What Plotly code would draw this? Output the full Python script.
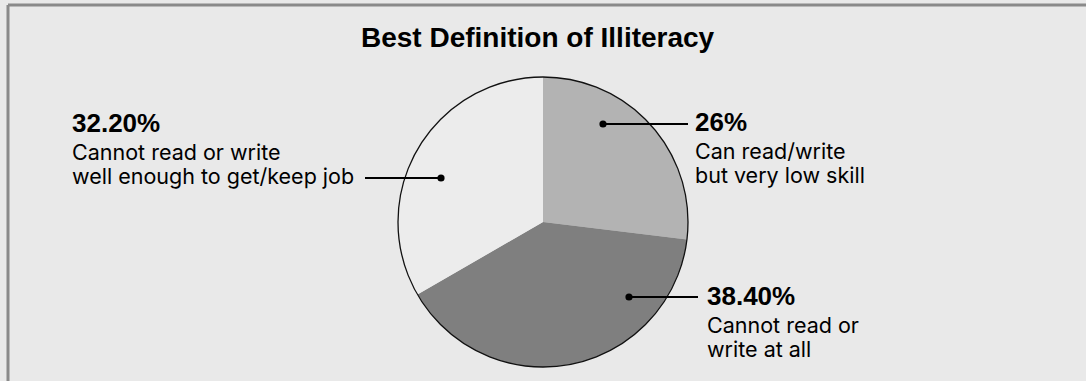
import plotly.graph_objects as go

# ---- data ----
categories = ["Can read/write but very low skill",
              "Cannot read or write at all",
              "Cannot read or write well enough to get/keep job"]
values = [26.0, 38.4, 32.2]
value_labels = ["26%", "38.40%", "32.20%"]
desc_lines = [["Can read/write", "but very low skill"],
              ["Cannot read or", "write at all"],
              ["Cannot read or write", "well enough to get/keep job"]]
slice_colors = ["#b3b3b3", "#7f7f7f", "#ececec"]
title_text = "Best Definition of Illiteracy"

W, H = 1086, 381
BG = "#e9e9e9"
FONT_BOLD = "Liberation Sans, Arial, sans-serif"
FONT_BODY = "Inter, Liberation Sans, Arial, sans-serif"


def px(x):
    return x / W


def py(y):
    return 1 - y / H


# pie geometry (pixels)
cx, cy, r = 543, 222, 145
dom_x = [px(cx - r), px(cx + r)]
dom_y = [py(cy + r), py(cy - r)]

fig = go.Figure()
fig.add_trace(go.Pie(
    labels=categories, values=values, sort=False, direction="clockwise",
    rotation=0, marker=dict(colors=slice_colors, line=dict(width=0)),
    textinfo="none", hoverinfo="label+value", showlegend=False,
    domain=dict(x=dom_x, y=dom_y),
))
# outline circle only around the circumference
fig.add_trace(go.Pie(
    labels=["outline"], values=[1], sort=False,
    marker=dict(colors=["rgba(0,0,0,0)"], line=dict(color="#111111", width=1.3)),
    textinfo="none", hoverinfo="skip", showlegend=False,
    domain=dict(x=dom_x, y=dom_y),
))

shapes = []
# frame lines (top and left)
shapes.append(dict(type="line", xref="paper", yref="paper", x0=px(8), x1=1, y0=py(5), y1=py(5),
                   line=dict(color="#8a8a8a", width=3)))
shapes.append(dict(type="line", xref="paper", yref="paper", x0=px(8), x1=px(8), y0=py(5), y1=0,
                   line=dict(color="#8a8a8a", width=3)))

# leader lines: (dot x, dot y, end x)
leaders = [(603, 124, 688), (629, 297, 698), (441, 178, 365)]
for (dx, dy, ex) in leaders:
    shapes.append(dict(type="line", xref="paper", yref="paper", x0=px(dx), x1=px(ex), y0=py(dy), y1=py(dy),
                       line=dict(color="black", width=2.2)))
    rr = 3.6
    shapes.append(dict(type="circle", xref="paper", yref="paper",
                       x0=px(dx - rr), x1=px(dx + rr), y0=py(dy + rr), y1=py(dy - rr),
                       fillcolor="black", line=dict(color="black", width=0)))

annotations = []
annotations.append(dict(text="<b>" + title_text + "</b>", xref="paper", yref="paper",
                        x=px(538), y=py(37), xanchor="center", yanchor="middle", showarrow=False,
                        font=dict(family=FONT_BOLD, size=28, color="black")))

# label blocks: (left x, header centre y, line1 centre y, line2 centre y)
blocks = [(693, 122, 151, 175), (705, 296, 325, 349), (70, 123, 152, 176)]
for i, (lx, hy, l1, l2) in enumerate(blocks):
    annotations.append(dict(text="<b>" + value_labels[i] + "</b>", xref="paper", yref="paper",
                            x=px(lx), y=py(hy), xanchor="left", yanchor="middle", showarrow=False,
                            font=dict(family=FONT_BOLD, size=26, color="black")))
    for yy, line in zip((l1, l2), desc_lines[i]):
        annotations.append(dict(text=line, xref="paper", yref="paper",
                                x=px(lx), y=py(yy), xanchor="left", yanchor="middle", showarrow=False,
                                font=dict(family=FONT_BODY, size=21.5, color="black")))

fig.update_layout(
    width=W, height=H, margin=dict(l=0, r=0, t=0, b=0),
    paper_bgcolor=BG, plot_bgcolor=BG,
    shapes=shapes, annotations=annotations,
)

fig.write_html("out.html")
